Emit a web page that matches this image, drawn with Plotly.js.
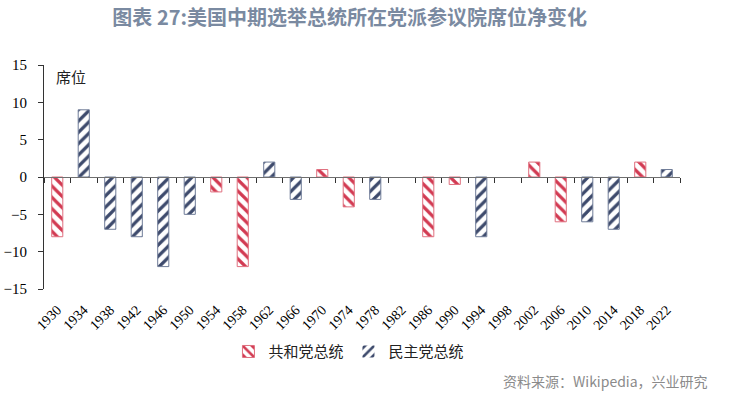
<!DOCTYPE html>
<html><head><meta charset="utf-8">
<script src="https://cdn.plot.ly/plotly-3.0.1.min.js"></script>
<style>html,body{margin:0;padding:0;background:#fff}#chart{width:730px;height:394px}</style>
</head><body><div id="chart"></div>
<script>
const years = ["1930","1934","1938","1942","1946","1950","1954","1958","1962","1966","1970","1974","1978","1982","1986","1990","1994","1998","2002","2006","2010","2014","2018","2022"];
const repValues = [-8,null,null,null,null,null,-2,-12,null,null,1,-4,null,0,-8,-1,null,null,2,-6,null,null,2,null];
const demValues = [null,9,-7,-8,-12,-5,null,null,2,-3,null,null,-3,null,null,null,-8,0,null,null,-6,-7,null,1];
const repName = "共和党总统";
const demName = "民主党总统";
const yTicks = [-15,-10,-5,0,5,10,15];

const red = "#d23a52", blue = "#3d4a6c";
const serif = "Liberation Serif, Times New Roman, serif";
const cjk = "Noto Sans CJK SC, sans-serif";
const lw = vals => vals.map(v => (v ? 1 : 0));

const traces = [
  {type:"bar", name:repName, x:years, y:repValues, width:0.42,
   marker:{color:"#ffffff", line:{color:"#e0707f", width:lw(repValues)},
     pattern:{shape:"\\", fgcolor:red, bgcolor:"#ffffff", size:8, solidity:0.4}}},
  {type:"bar", name:demName, x:years, y:demValues, width:0.42,
   marker:{color:"#ffffff", line:{color:"#6f7c98", width:lw(demValues)},
     pattern:{shape:"/", fgcolor:blue, bgcolor:"#ffffff", size:8, solidity:0.4}}},
  {type:"scatter", mode:"markers", x:years, y:years.map(()=>null), xaxis:"x2",
   showlegend:false, hoverinfo:"skip"}
];

const layout = {
  width:730, height:394,
  margin:{l:44, r:50, t:65, b:105},
  paper_bgcolor:"#fff", plot_bgcolor:"#fff",
  barmode:"overlay",
  showlegend:true,
  title:{text:"图表 27:美国中期选举总统所在党派参议院席位净变化",
    font:{family:cjk, size:20, color:"#7a8aa1", weight:"bold"},
    x:0.479, xanchor:"center", y:0.955, yanchor:"middle"},
  xaxis:{type:"category", range:[-0.5,23.5], showline:false, ticks:"", showgrid:false, zeroline:false,
    tickangle:-45, ticklabelstandoff:9, tickfont:{family:serif, size:14, color:"#000"}},
  xaxis2:{type:"category", overlaying:"x", anchor:"free", position:0.5, range:[-0.5,23.5],
    showline:true, linecolor:"#6f6f6f", linewidth:1.3, ticks:"outside", ticklen:5, tickcolor:"#333",
    tickson:"boundaries", showticklabels:false, showgrid:false, zeroline:false},
  yaxis:{range:[-15,15], tickvals:yTicks, showline:true, linecolor:"#333", linewidth:1,
    ticks:"outside", ticklen:5, tickcolor:"#333", showgrid:false, zeroline:false,
    ticklabelstandoff:8, tickfont:{family:serif, size:15, color:"#000"}},
  legend:{orientation:"h", x:0.29, xanchor:"left", y:-0.28, yanchor:"middle",
    font:{family:cjk, size:15, color:"#222"}, itemwidth:30, traceorder:"normal"},
  annotations:[
    {text:"席位", xref:"paper", yref:"paper", x:0.016, y:0.95, xanchor:"left", yanchor:"middle",
     showarrow:false, font:{family:cjk, size:15, color:"#222"}},
    {text:"资料来源：Wikipedia，兴业研究", xref:"paper", yref:"paper", x:1.047, y:-0.41,
     xanchor:"right", yanchor:"middle", showarrow:false, font:{family:cjk, size:14, color:"#8a8a8a"}}
  ]
};
Plotly.newPlot("chart", traces, layout, {displayModeBar:false, staticPlot:true});
</script></body></html>
